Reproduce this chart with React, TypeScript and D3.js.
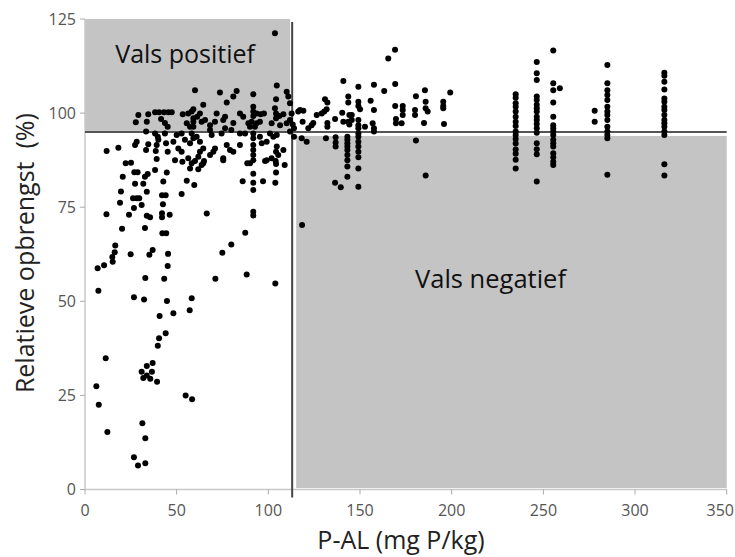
import React from "react";
import * as d3 from "d3";

// Axis ticks
const xTicks = [0, 50, 100, 150, 200, 250, 300, 350];
const yTicks = [0, 25, 50, 75, 100, 125];

// Threshold values that split the plot into four quadrants
const pThreshold = 113;
const yieldThreshold = 95;

// [P-AL (mg P/kg), relative yield (%)]
const lowYield: [number, number][] = [
  [16.5, 64.8], [16.2, 63.0], [14.9, 61.8], [15.1, 60.5], [10.4, 59.6], [6.9, 58.8], [24.9, 62.5],
  [36.9, 63.6], [35.1, 62.4], [45.3, 62.6], [45.1, 59.4], [32.9, 56.2], [43.2, 56.0], [7.3, 52.8],
  [26.7, 51.1], [32.2, 50.5], [44.7, 50.1], [58.2, 50.8], [57.1, 47.6], [48.2, 46.8], [40.7, 46.1],
  [44.0, 41.5], [40.4, 40.2], [39.7, 38.2], [11.3, 34.9], [30.9, 31.3], [36.5, 31.3], [31.8, 29.6],
  [33.7, 30.3], [35.6, 29.4], [39.3, 28.6], [33.7, 32.8], [36.9, 33.6], [6.2, 27.4], [7.5, 22.5],
  [54.9, 25.0], [58.4, 24.0], [31.3, 17.6], [12.2, 15.3], [32.9, 13.6], [26.7, 8.6], [28.9, 6.4],
  [32.9, 7.0],
];

const midYield: [number, number][] = [
  [66.4, 73.3], [71.1, 56.0], [74.9, 62.9], [79.8, 65.1], [87.4, 68.2], [88.2, 57.1], [103.8, 54.7],
  [91.8, 73.8], [91.8, 72.8], [91.8, 79.6], [91.8, 81.5], [86.0, 81.9], [97.1, 81.9], [103.8, 81.5],
  [19.6, 79.2], [19.1, 76.2], [24.0, 73.0], [20.2, 69.3], [11.7, 73.1], [26.2, 77.4], [28.2, 77.4],
  [29.6, 77.4], [26.7, 74.8], [30.9, 75.6], [33.7, 79.1], [27.3, 81.2], [31.8, 81.2], [33.7, 72.7],
  [35.5, 72.3], [32.7, 69.5], [42.0, 78.2], [44.0, 78.2], [42.5, 75.8], [42.0, 73.4], [42.0, 72.3],
  [46.2, 73.0], [42.2, 68.1], [44.3, 68.1], [52.7, 78.5], [59.6, 80.9], [42.7, 81.8], [55.5, 82.0],
  [22.2, 86.7], [25.1, 86.8], [26.9, 84.3], [28.7, 84.3], [32.7, 83.1], [34.2, 83.8], [38.2, 84.9],
  [44.6, 84.2], [20.6, 83.1], [60.0, 87.3], [64.9, 87.3], [57.3, 85.3], [61.8, 85.1], [63.6, 86.2],
  [75.4, 87.5], [88.5, 86.7], [98.2, 87.3], [104.0, 87.3], [104.2, 86.5], [108.9, 86.2], [91.8, 83.9],
  [104.2, 84.2], [118.4, 70.3], [103.6, 121.2],
];

const lowPAbove: [number, number][] = [
  [29.1, 99.5], [34.5, 99.7], [38.2, 100.2], [40.4, 100.2], [43.1, 100.2], [45.4, 100.2], [47.3, 100.2],
  [27.7, 97.6], [33.7, 97.7], [41.5, 98.4], [43.6, 97.4], [45.1, 96.4], [53.3, 99.7], [56.3, 99.9],
  [58.2, 100.4], [59.1, 98.6], [55.5, 97.3], [57.3, 96.4], [60.0, 106.1], [73.6, 105.5], [80.9, 104.4],
  [82.7, 105.9], [91.8, 105.0], [104.6, 107.3], [110.0, 105.7], [110.9, 104.4], [77.3, 102.8],
  [64.5, 102.2], [104.2, 103.7], [59.1, 101.0], [62.7, 99.9], [61.2, 99.0], [71.8, 99.9], [76.4, 99.0],
  [75.4, 98.2], [84.5, 99.9], [86.3, 99.0], [91.8, 101.7], [91.8, 100.4], [91.8, 99.2], [93.6, 99.9],
  [95.8, 99.7], [97.6, 99.9], [103.6, 101.3], [104.2, 99.9], [104.2, 98.6], [106.0, 99.2], [108.2, 99.7],
  [111.8, 102.6], [65.5, 98.2], [63.6, 97.7], [70.9, 97.7], [68.2, 96.8], [80.9, 97.4], [89.1, 97.3],
  [90.9, 97.7], [93.6, 97.3], [95.4, 97.7], [90.0, 96.4], [92.7, 96.4], [101.8, 97.3], [106.4, 96.8],
  [110.0, 97.3], [111.8, 98.2], [59.1, 97.7], [59.1, 96.4], [76.4, 96.0], [79.8, 95.5], [68.2, 95.5],
];

const lowPBelow: [number, number][] = [
  [33.3, 95.1], [38.2, 94.6], [39.7, 93.7], [40.0, 92.9], [43.6, 94.6], [50.0, 94.2], [52.7, 94.6],
  [28.2, 92.4], [27.3, 91.5], [34.5, 91.7], [39.1, 91.5], [38.6, 89.9], [44.2, 92.0], [45.1, 89.7],
  [48.2, 92.4], [50.9, 90.6], [52.7, 89.7], [54.5, 92.9], [57.3, 92.0], [58.2, 94.6], [59.1, 93.3],
  [11.8, 89.9], [18.2, 90.8], [33.3, 90.2], [39.1, 87.8], [49.1, 87.5], [53.1, 87.1], [56.3, 88.0],
  [58.2, 86.7], [60.9, 93.7], [69.1, 94.2], [62.7, 92.4], [64.5, 90.6], [62.7, 89.7], [61.8, 88.4],
  [64.5, 86.7], [70.9, 90.6], [70.0, 89.7], [68.2, 88.9], [74.5, 94.6], [77.3, 91.5], [79.1, 90.2],
  [80.9, 89.7], [75.4, 88.0], [84.5, 91.5], [84.5, 94.6], [87.3, 94.6], [91.8, 94.6], [91.8, 93.3],
  [91.8, 91.5], [91.8, 90.2], [91.8, 88.9], [91.8, 87.5], [90.0, 86.7], [95.4, 93.7], [96.4, 92.0],
  [99.1, 92.4], [100.9, 94.6], [102.7, 93.7], [104.6, 94.2], [104.6, 91.1], [104.2, 89.7], [105.4, 88.9],
  [108.2, 90.2], [99.1, 87.5], [101.8, 88.0], [111.8, 95.1],
];

const highP: [number, number][] = [
  [116.3, 100.4], [140.9, 108.5], [149.1, 107.0], [157.6, 107.5], [163.2, 105.9], [169.2, 107.7],
  [180.5, 104.5], [143.6, 104.4], [143.6, 102.8], [149.1, 103.0], [149.1, 101.9], [150.0, 101.0],
  [130.9, 103.7], [132.2, 102.8], [155.8, 103.3], [157.6, 100.8], [169.2, 101.9], [173.3, 101.9],
  [173.3, 100.8], [173.3, 99.5], [180.0, 100.8], [180.0, 99.5], [117.3, 100.8], [119.1, 100.6],
  [112.7, 99.9], [140.3, 100.1], [126.4, 99.5], [129.1, 99.9], [130.5, 100.4], [131.8, 101.0],
  [144.2, 99.5], [145.5, 99.5], [118.7, 97.7], [124.5, 97.4], [123.6, 96.8], [121.8, 96.0],
  [132.2, 97.4], [132.2, 96.4], [136.4, 98.4], [140.9, 97.7], [143.6, 97.7], [145.5, 98.2],
  [144.2, 97.0], [149.1, 98.2], [149.1, 96.8], [149.1, 96.0], [152.7, 96.4], [156.9, 97.3],
  [157.6, 96.0], [157.6, 95.1], [169.6, 98.4], [169.6, 97.3], [172.7, 97.3], [113.3, 97.0],
  [114.0, 96.0], [114.0, 93.7], [118.2, 93.3], [120.9, 92.4], [131.4, 93.3], [136.7, 93.6],
  [136.7, 92.2], [136.7, 91.1], [143.1, 93.7], [143.1, 92.9], [143.1, 92.0], [143.1, 91.1],
  [143.1, 90.2], [143.1, 88.9], [143.1, 87.5], [143.1, 85.8], [143.1, 83.1], [149.1, 94.6],
  [149.1, 93.7], [149.1, 92.4], [149.1, 91.1], [149.1, 89.7], [149.1, 88.3], [149.1, 85.3],
  [149.1, 80.4], [136.4, 81.5], [139.5, 80.3], [180.5, 92.7], [185.4, 106.1], [185.8, 103.0],
  [185.8, 101.3], [186.9, 100.4], [184.9, 97.4], [185.8, 83.4], [195.4, 103.0], [195.4, 101.9],
  [195.4, 101.3], [195.8, 97.1], [199.2, 105.5], [169.1, 116.8], [165.4, 114.5],
];

const site235: [number, number][] = [
  [234.9, 105.0], [234.9, 104.1], [234.9, 102.6], [234.9, 101.7], [234.9, 100.4], [234.9, 99.0],
  [234.9, 97.7], [234.9, 96.6], [234.9, 95.1], [234.9, 94.2], [234.9, 93.1], [234.9, 91.9],
  [234.9, 90.3], [234.9, 89.2], [234.9, 87.6], [234.9, 85.3],
];

const site246: [number, number][] = [
  [246.4, 113.6], [246.4, 110.6], [246.4, 108.8], [246.4, 104.4], [246.4, 103.5], [246.4, 102.2],
  [246.4, 101.3], [246.4, 100.4], [246.4, 99.0], [246.4, 98.2], [246.4, 97.1], [246.4, 96.0],
  [246.4, 94.8], [246.4, 92.0], [246.4, 90.4], [246.4, 89.1], [246.4, 81.8],
];

const site255: [number, number][] = [
  [255.4, 116.6], [255.4, 107.9], [255.4, 106.1], [255.4, 102.8], [255.4, 99.0], [255.4, 96.8],
  [255.4, 96.0], [255.4, 95.1], [255.4, 94.2], [255.4, 92.9], [255.4, 92.0], [255.4, 91.1],
  [255.4, 89.3], [255.4, 88.3], [255.4, 87.1], [255.4, 86.2], [259.0, 106.6],
];

const site285: [number, number][] = [
  [284.9, 112.8], [284.9, 107.9], [284.9, 106.1], [284.9, 104.8], [284.9, 103.5], [284.9, 101.7],
  [284.9, 100.4], [284.9, 99.5], [284.9, 98.2], [284.9, 96.4], [284.9, 95.1], [284.9, 94.2],
  [284.9, 93.3], [284.9, 83.6], [278.0, 100.6], [278.0, 97.7],
];

const site316: [number, number][] = [
  [316.0, 110.7], [316.0, 109.9], [316.0, 108.3], [316.0, 106.3], [316.0, 103.9], [316.0, 103.0],
  [316.0, 101.7], [316.0, 100.8], [316.0, 99.5], [316.0, 98.2], [316.0, 97.3], [316.0, 96.4],
  [316.0, 95.1], [316.0, 94.2], [316.0, 86.4], [316.0, 83.4],
];

const W = 735;
const H = 557;
const left = 85;
const right = 726.7;
const top = 19;
const bottom = 489.5;

export default function App() {
  const x = d3.scaleLinear().domain([0, 350]).range([left, right]);
  const y = d3.scaleLinear().domain([0, 125]).range([bottom, top]);

  const points = [
    ...lowYield, ...midYield, ...lowPAbove, ...lowPBelow, ...highP,
    ...site235, ...site246, ...site255, ...site285, ...site316,
  ];

  const vx = x(pThreshold);
  const hy = y(yieldThreshold);
  const font = "'Open Sans', 'Noto Sans', sans-serif";
  const shade = "#c4c4c4";
  const lastTick = xTicks[xTicks.length - 1];

  return (
    <svg
      width={W}
      height={H}
      style={{ position: "absolute", left: 0, top: 0, background: "#fff" }}
      fontFamily={font}
    >
      {/* quadrant shading */}
      <rect x={x(0)} y={y(125)} width={vx - 2 - x(0)} height={hy - 1 - y(125)} fill={shade} />
      <rect x={vx + 4} y={hy + 4} width={x(350) - vx - 4} height={bottom - 1.5 - (hy + 4)} fill={shade} />

      {/* axes */}
      <line x1={left} x2={left} y1={top} y2={bottom} stroke="#c8c8c8" strokeWidth={1.5} />
      <line x1={left} x2={right} y1={bottom} y2={bottom} stroke="#c8c8c8" strokeWidth={1.5} />
      {yTicks.map((t) => (
        <g key={"y" + t}>
          <line x1={left - 5} x2={left} y1={y(t)} y2={y(t)} stroke="#aaa" strokeWidth={1} />
          <text x={left - 9} y={y(t)} dy="0.35em" textAnchor="end" fontSize={16} fill="#555">
            {t}
          </text>
        </g>
      ))}
      {xTicks.map((t) => (
        <g key={"x" + t}>
          <line x1={x(t)} x2={x(t)} y1={bottom} y2={bottom + 5} stroke="#aaa" strokeWidth={1} />
          <text
            x={t === lastTick ? W - 1 : x(t)}
            y={bottom + 26}
            textAnchor={t === lastTick ? "end" : "middle"}
            fontSize={16}
            fill="#555"
          >
            {t}
          </text>
        </g>
      ))}

      {/* threshold lines */}
      <line x1={left} x2={right} y1={hy} y2={hy} stroke="#555" strokeWidth={2} />
      <line x1={vx} x2={vx} y1={y(124.2)} y2={bottom + 8} stroke="#444" strokeWidth={2} />

      {/* observations */}
      {points.map(([p, r], i) => (
        <circle key={i} cx={x(p)} cy={y(r)} r={3} fill="#000" />
      ))}

      {/* quadrant labels */}
      <text x={x(16.5)} y={y(113.3)} fontSize={25} fill="#111">Vals positief</text>
      <text x={x(180)} y={y(53.5)} fontSize={25.5} fill="#111">Vals negatief</text>

      {/* axis titles */}
      <text x={401} y={549} textAnchor="middle" fontSize={25} fill="#222">P-AL (mg P/kg)</text>
      <text
        transform={`translate(34, ${y(62.8)}) rotate(-90)`}
        textAnchor="middle"
        fontSize={25}
        fill="#222"
      >
        {"Relatieve opbrengst\u00a0 (%)"}
      </text>
    </svg>
  );
}
